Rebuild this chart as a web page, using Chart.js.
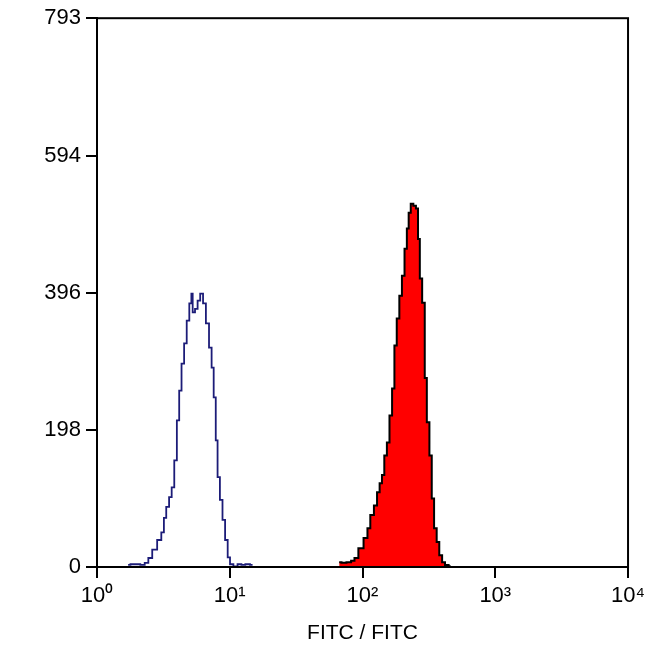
<!DOCTYPE html>
<html lang="en">
<head>
    <meta charset="UTF-8">
    <title>FITC histogram</title>
    <script src="https://cdn.jsdelivr.net/npm/chart.js"></script>
    <style>
        html, body { margin: 0; padding: 0; background: #fff; }
        #wrap { width: 650px; height: 650px; }
    </style>
</head>
<body>
    <div id="wrap"><canvas id="histChart" width="650" height="650"></canvas></div>

    <script type=text/javascript>
        // channel axis: 1024 channels over 4 decades
        var xTickValues = [0, 256, 512, 768, 1024];
        var xTickLabels = ['10\u2070', '10\u00b9', '10\u00b2', '10\u00b3', '10\u2074'];
        var yTickValues = [0, 198, 396, 594, 793];

        // unstained control (blue outline)
        var controlChannels = [60, 69, 79, 88, 96, 102, 111, 121, 127, 131, 136, 142, 146, 152, 156, 161, 165, 171, 175, 181, 183, 186, 192, 196, 202, 207, 213, 219, 223, 227, 231, 234, 240, 244, 250, 254, 259, 267, 275, 282, 290, 300];
        var controlCounts   = [3, 4, 4, 3, 6, 13, 25, 39, 50, 71, 87, 101, 115, 154, 212, 255, 294, 323, 356, 381, 395, 368, 373, 385, 395, 381, 352, 317, 288, 245, 183, 130, 97, 68, 39, 14, 4, 1, 4, 3, 4, 3];

        // stained sample (red filled)
        var stainedChannels = [467, 476, 486, 494, 499, 509, 519, 524, 530, 538, 542, 548, 551, 557, 561, 567, 571, 576, 580, 586, 590, 596, 599, 603, 607, 613, 617, 621, 624, 630, 634, 638, 644, 647, 653, 657, 663, 668, 674, 682];
        var stainedCounts   = [7, 6, 7, 9, 13, 27, 42, 56, 75, 89, 108, 121, 133, 161, 180, 219, 258, 320, 359, 392, 421, 460, 489, 512, 525, 522, 518, 474, 417, 382, 273, 209, 161, 99, 56, 36, 17, 7, 3, 1];

        function toPoints(xs, ys) {
            return xs.map(function (x, i) { return { x: x, y: ys[i] }; });
        }

        // frame around the plot area
        var boxPlugin = {
            id: 'box',
            afterDatasetsDraw: function (chart) {
                var a = chart.chartArea, ctx = chart.ctx;
                ctx.save();
                ctx.strokeStyle = '#000';
                ctx.lineWidth = 2;
                ctx.strokeRect(a.left, a.top, a.right - a.left, a.bottom - a.top);
                ctx.restore();
            }
        };

        var labelFont = 'Liberation Sans, Arial, sans-serif';

        var ctx = document.getElementById('histChart').getContext('2d');
        var histChart = new Chart(ctx, {
            type: 'line',
            data: {
                datasets: [
                    {
                        label: 'Stained',
                        data: toPoints(stainedChannels, stainedCounts),
                        stepped: 'middle',
                        borderColor: '#000000',
                        borderWidth: 2,
                        backgroundColor: '#ff0000',
                        fill: 'origin',
                        pointRadius: 0
                    },
                    {
                        label: 'Control',
                        data: toPoints(controlChannels, controlCounts),
                        stepped: 'middle',
                        borderColor: '#1c1c78',
                        borderWidth: 1.8,
                        fill: false,
                        pointRadius: 0
                    }
                ]
            },
            options: {
                responsive: false,
                animation: false,
                layout: { padding: { top: 17, right: 20, left: 0, bottom: 0 } },
                plugins: {
                    legend: { display: false },
                    tooltip: { enabled: false }
                },
                scales: {
                    x: {
                        type: 'linear',
                        min: 0,
                        max: 1024,
                        afterBuildTicks: function (scale) {
                            scale.ticks = xTickValues.map(function (v) { return { value: v }; });
                        },
                        afterFit: function (scale) { scale.height = 83; },
                        grid: { drawOnChartArea: false, drawTicks: true, tickLength: 11, tickColor: '#000', lineWidth: 2 },
                        border: { display: true, color: '#000', width: 2 },
                        ticks: {
                            color: '#000',
                            padding: 5,
                            maxRotation: 0,
                            font: { family: labelFont, size: 22 },
                            callback: function (v, i) { return xTickLabels[i]; }
                        },
                        title: {
                            display: true,
                            text: 'FITC / FITC',
                            color: '#000',
                            padding: { top: 4 },
                            font: { family: labelFont, size: 21 }
                        }
                    },
                    y: {
                        type: 'linear',
                        min: 0,
                        max: 793,
                        afterBuildTicks: function (scale) {
                            scale.ticks = yTickValues.map(function (v) { return { value: v }; });
                        },
                        afterFit: function (scale) { scale.width = 97; },
                        grid: { drawOnChartArea: false, drawTicks: true, tickLength: 11, tickColor: '#000', lineWidth: 2 },
                        border: { display: true, color: '#000', width: 2 },
                        ticks: {
                            color: '#000',
                            padding: 5,
                            font: { family: labelFont, size: 22 }
                        }
                    }
                }
            },
            plugins: [boxPlugin]
        });
    </script>
</body>
</html>
